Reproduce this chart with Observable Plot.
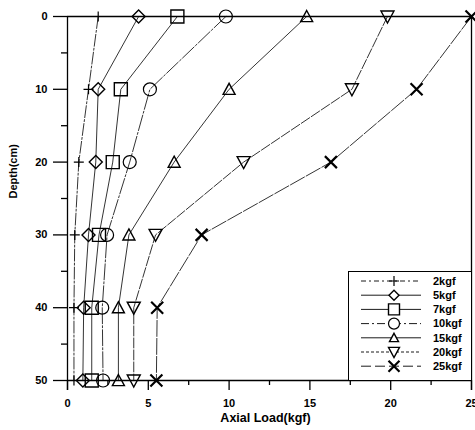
<!DOCTYPE html>
<html><head><meta charset="utf-8">
<script src="https://cdn.jsdelivr.net/npm/d3@7"></script>
<script src="https://cdn.jsdelivr.net/npm/@observablehq/plot@0.6"></script>
<style>
body{margin:0;background:#fff;}
#wrap{position:relative;width:475px;height:430px;font-family:"Liberation Sans",Arial,sans-serif;}
#legend{position:absolute;left:348px;top:271px;width:124px;height:110px;box-sizing:border-box;border:1.3px solid #000;background:#fff;}
</style></head><body><div id="wrap"><div id="legend"></div></div>
<script>
// ---- data ----
const depths = [0, 10, 20, 30, 40, 50];
const seriesNames = ["2kgf", "5kgf", "7kgf", "10kgf", "15kgf", "20kgf", "25kgf"];
const load2  = [1.9, 1.3, 0.7, 0.45, 0.4, 0.4];
const load5  = [4.4, 1.9, 1.75, 1.3, 1.0, 0.95];
const load7  = [6.8, 3.3, 2.8, 1.95, 1.5, 1.5];
const load10 = [9.8, 5.1, 3.85, 2.45, 2.15, 2.2];
const load15 = [14.8, 10.0, 6.6, 3.8, 3.15, 3.15];
const load20 = [19.8, 17.6, 10.9, 5.45, 4.1, 4.1];
const load25 = [25.0, 21.6, 16.3, 8.3, 5.55, 5.5];
const xTicks = [0, 5, 10, 15, 20, 25];
const xMinor = [2.5, 7.5, 12.5, 17.5, 22.5];
const yTicks = [0, 10, 20, 30, 40, 50];
const yMinor = [5, 15, 25, 35, 45];

const loads = [load2, load5, load7, load10, load15, load20, load25];
const table = seriesNames.map((name, i) => depths.map((d, j) => ({series: name, depth: d, load: loads[i][j]})));

// ---- styles ----
function mk(h, kind) {
  return {draw(c) {
    if (kind === "plus") { c.moveTo(-h,0); c.lineTo(h,0); c.moveTo(0,-h); c.lineTo(0,h); }
    else if (kind === "diamond") { c.moveTo(0,-h); c.lineTo(h,0); c.lineTo(0,h); c.lineTo(-h,0); c.closePath(); }
    else if (kind === "square") { c.moveTo(-h,-h); c.lineTo(h,-h); c.lineTo(h,h); c.lineTo(-h,h); c.closePath(); }
    else if (kind === "circle") { c.moveTo(h,0); c.arc(0,0,h,0,2*Math.PI); c.closePath(); }
    else if (kind === "up") { c.moveTo(0,-h); c.lineTo(h,h*0.85); c.lineTo(-h,h*0.85); c.closePath(); }
    else if (kind === "down") { c.moveTo(-h,-h*0.85); c.lineTo(h,-h*0.85); c.lineTo(0,h); c.closePath(); }
    else if (kind === "x") { c.moveTo(-h,-h); c.lineTo(h,h); c.moveTo(h,-h); c.lineTo(-h,h); }
  }};
}
const kinds = ["plus", "diamond", "square", "circle", "up", "down", "x"];
const sizes = [5, 6.5, 6.5, 6.5, 6, 6.5, 6];
const lsizes = [5, 5, 5.5, 5.5, 4.5, 5.5, 5.5];
const dashes = ["12,2,2,2", null, null, "16,2,2,2", null, "10,2", "16,2"];
const ldashes = ["5,3,2,3", null, null, "8,3,2,3", null, "3,2", "10,4"];
const mwidth = [1.2, 1.4, 1.4, 1.2, 1.4, 1.4, 2.2];

const marks = [
  Plot.ruleY([0], {stroke: "black", strokeWidth: 1.3}),
  Plot.ruleY([50], {stroke: "black", strokeWidth: 1.3}),
  Plot.ruleX([0, 25], {stroke: "black", strokeWidth: 1.3, insetBottom: -10}),
  Plot.axisY(yTicks, {tickSize: 14, tickPadding: 6, fontWeight: "bold", fontSize: 11, strokeWidth: 1.3, label: null}),
  Plot.axisY(yMinor, {tickSize: 6, tickFormat: () => "", strokeWidth: 1.3, label: null}),
  Plot.axisX(xTicks, {tickSize: 10, tickPadding: 9, fontWeight: "bold", fontSize: 11, strokeWidth: 1.3, label: null}),
  Plot.axisX(xMinor, {tickSize: 5, tickFormat: () => "", strokeWidth: 1.3, label: null}),
  Plot.text(["Depth(cm)"], {frameAnchor: "left", dx: -54, rotate: -90, fontWeight: "bold", fontSize: 11}),
  Plot.text(["Axial Load(kgf)"], {frameAnchor: "bottom", dy: 41, dx: -4, fontWeight: "bold", fontSize: 12.5})
];
table.forEach((rows, i) => {
  marks.push(Plot.line(rows, {x: "load", y: "depth", stroke: "black", strokeWidth: 0.8, strokeDasharray: dashes[i] || undefined}));
});
table.forEach((rows, i) => {
  marks.push(Plot.dot(rows, {x: "load", y: "depth", symbol: mk(sizes[i], kinds[i]), r: 1, stroke: "black", fill: "none", strokeWidth: mwidth[i]}));
});

const chart = Plot.plot({
  width: 475, height: 430,
  marginLeft: 67, marginRight: 4, marginTop: 16, marginBottom: 50,
  style: {fontFamily: "'Liberation Sans', Arial, sans-serif", color: "black", background: "white"},
  x: {domain: [0, 25]},
  y: {domain: [0, 50], reverse: true},
  marks
});
document.getElementById("wrap").insertBefore(chart, document.getElementById("legend"));
chart.style.position = "absolute"; chart.style.left = "0"; chart.style.top = "0";

// ---- legend ----
const lg = d3.select("#legend").append("svg").attr("width", 122).attr("height", 108)
  .style("font-family", "'Liberation Sans', Arial, sans-serif");
seriesNames.forEach((name, i) => {
  const y = 9 + i * 14.2;
  const g = lg.append("g").attr("transform", `translate(0,${y})`);
  g.append("line").attr("x1", 12).attr("x2", 72).attr("stroke", "black").attr("stroke-width", 0.9)
    .attr("stroke-dasharray", ldashes[i] || null);
  const p = d3.path(); mk(lsizes[i], kinds[i]).draw(p);
  g.append("path").attr("d", p.toString()).attr("transform", "translate(45,0)")
    .attr("fill", "white").attr("stroke", "black").attr("stroke-width", mwidth[i]);
  g.append("text").attr("x", 84).attr("dy", "0.35em").attr("font-size", 11).attr("font-weight", "bold").text(name);
});
</script></body></html>
